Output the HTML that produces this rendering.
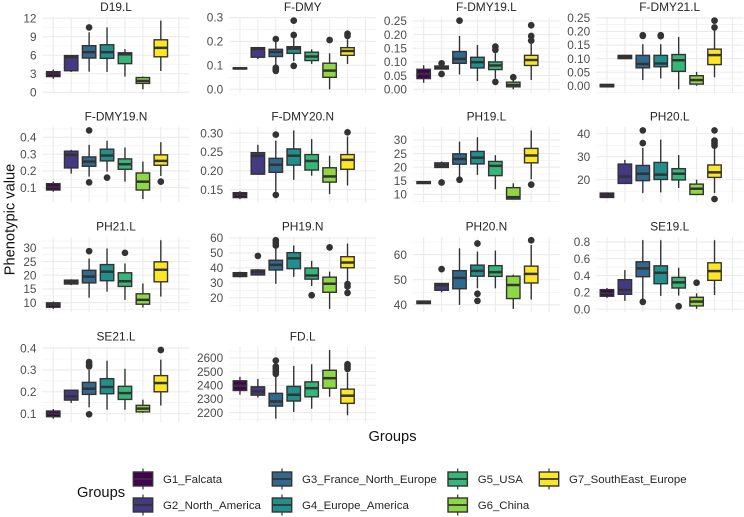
<!DOCTYPE html>
<html>
<head>
<meta charset="utf-8">
<style>
html,body{margin:0;padding:0;background:#fff;width:744px;height:517px;overflow:hidden}
svg{display:block;font-family:"Liberation Sans",Arial,sans-serif;filter:blur(0.3px)}
</style>
</head>
<body>
<svg id="chart" width="744" height="517" viewBox="0 0 744 517" xmlns="http://www.w3.org/2000/svg"></svg>
<script>
// Categories
const groups = ["G1_Falcata","G2_North_America","G3_France_North_Europe","G4_Europe_America","G5_USA","G6_China","G7_SouthEast_Europe"];
const groupColors = ["#440154","#443A83","#31688E","#21908C","#35B779","#8FD744","#FDE725"];
const panelNames = ["D19.L","F-DMY","F-DMY19.L","F-DMY21.L","F-DMY19.N","F-DMY20.N","PH19.L","PH20.L","PH21.L","PH19.N","PH20.N","SE19.L","SE21.L","FD.L"];

// Tick labels per panel
const ticksD19L = ["0","3","6","9","12"];
const ticksFDMY = ["0.0","0.1","0.2","0.3"];
const ticksFDMY19L = ["0.00","0.05","0.10","0.15","0.20","0.25"];
const ticksFDMY21L = ["0.00","0.05","0.10","0.15","0.20","0.25"];
const ticksFDMY19N = ["0.1","0.2","0.3","0.4"];
const ticksFDMY20N = ["0.15","0.20","0.25","0.30"];
const ticksPH19L = ["10","15","20","25","30"];
const ticksPH20L = ["20","30","40"];
const ticksPH21L = ["10","15","20","25","30"];
const ticksPH19N = ["20","30","40","50","60"];
const ticksPH20N = ["40","50","60"];
const ticksSE19L = ["0.0","0.2","0.4","0.6","0.8"];
const ticksSE21L = ["0.1","0.2","0.3","0.4"];
const ticksFDL = ["2200","2300","2400","2500","2600"];

// Box stats per group: [whisker low, q1, median, q3, whisker high]
const statsD19L = [[2.2,2.55,3,3.35,3.7],[3.3,3.5,5.7,5.95,6],[3.35,5.55,6.5,7.55,9.7],[3.3,5.5,6.5,7.7,10.5],[2.55,4.65,6.15,6.4,7],[0.5,1.45,1.85,2.4,2.55],[3.45,5.75,7.2,8.5,11.6]];
const statsFDMY = [[.083,.085,.087,.09,.092],[.126,.134,.169,.174,.174],[.102,.137,.156,.167,.2],[.118,.15,.17,.178,.213],[.106,.12,.137,.155,.167],[0,.05,.078,.109,.15],[.106,.142,.16,.174,.209]];
const statsFDMY19L = [[.024,.039,.056,.073,.088],[.074,.074,.079,.085,.1],[.054,.095,.111,.138,.195],[.03,.078,.099,.117,.162],[.04,.072,.087,.1,.132],[0,.009,.016,.026,.034],[.034,.087,.107,.124,.168]];
const statsFDMY21L = [[-.004,-.004,0,.005,.005],[.1,.1,.107,.112,.112],[.021,.066,.08,.112,.153],[.027,.07,.082,.112,.153],[-.013,.053,.094,.115,.18],[0,.006,.021,.037,.051],[.031,.078,.113,.135,.207]];
const statsFDMY19N = [[.076,.086,.104,.124,.136],[.184,.218,.296,.318,.326],[.166,.228,.256,.284,.356],[.196,.26,.292,.33,.38],[.136,.21,.24,.272,.34],[.032,.086,.136,.188,.256],[.17,.234,.26,.296,.372]];
const statsFDMY20N = [[.125,.129,.136,.142,.146],[.191,.191,.24,.248,.269],[.145,.196,.216,.233,.28],[.176,.215,.24,.258,.307],[.187,.202,.226,.243,.284],[.138,.17,.185,.208,.24],[.161,.204,.229,.243,.291]];
const statsPH19L = [[14,14,14.3,14.7,14.7],[19.9,19.9,20.7,21.6,22.1],[16.4,21.1,23,24.9,29.4],[17.2,21.2,23.5,25.8,31],[11.9,16.9,20.5,22.1,24.4],[8.3,8.3,9,12.5,14.1],[15.6,21.6,24.3,26.9,33.5]];
const statsPH20L = [[12,12.3,13.2,14.2,14.5],[18.1,18.4,21.4,26.8,28.6],[14.2,19.6,22.6,26.2,33.8],[14.5,20.1,22.2,27.5,37.4],[16.4,19.9,22.6,24.8,30.7],[13.6,13.6,16.1,18.1,20],[14.2,21,23.2,26.4,33.8]];
const statsPH21L = [[7.7,8.3,9.2,9.9,10.4],[16.4,16.8,17.5,18.2,18.5],[11.8,17.2,19.5,21.8,26.1],[14,18,21.3,23.9,29.8],[11,15.9,17.8,20.9,24.3],[8.2,9.4,11,13.2,17],[12.2,17.6,22,24.9,32.8]];
const statsPH19N = [[33.6,34.2,35.5,36.8,37.5],[35.3,35.3,37.3,38.6,39.2],[29.4,38.6,42,45.1,53.4],[34,39.5,46.4,50.2,55],[27.9,32.5,34.9,39.9,44.7],[12.6,23.7,29.4,33.8,37.5],[30.5,40.1,43.6,47.5,56.3]];
const statsPH20N = [[40.5,40.5,41,41.5,41.5],[45,45.8,47.8,48.5,48.5],[40,46.4,50.7,53.6,62.5],[46.6,51.4,53.5,55.8,61.2],[46.6,51.3,53,55.6,61.6],[38.4,42.5,47.9,51.4,52],[42.1,48.7,52.3,55.4,63.8]];
const statsSE19L = [[.134,.154,.189,.233,.252],[.099,.177,.229,.351,.465],[.118,.386,.485,.564,.82],[.158,.303,.433,.516,.82],[.162,.252,.319,.378,.493],[.004,.039,.091,.142,.189],[.169,.343,.453,.552,.82]];
const statsSE21L = [[.077,.086,.1,.112,.121],[.149,.162,.179,.207,.207],[.129,.188,.214,.243,.3],[.118,.191,.222,.26,.342],[.118,.165,.194,.225,.305],[.103,.108,.123,.138,.164],[.137,.2,.24,.274,.347]];
const statsFDL = [[2331,2362,2396,2433,2462],[2311,2328,2355,2389,2447],[2156,2248,2282,2341,2472],[2205,2285,2331,2392,2542],[2229,2316,2379,2425,2554],[2316,2379,2452,2510,2658],[2181,2268,2324,2372,2493]];

// Outliers per group
const outD19L = [[],[],[10.5],[],[],[],[]];
const outFDMY = [[],[],[.21,.09,.084,.077],[.287,.227,.098],[],[.206],[.232,.223]];
const outFDMY19L = [[],[.095,.056],[.251],[],[.156,.144,.027],[.044],[.234,.195,.178]];
const outFDMY21L = [[],[],[.186,.184],[.186,.183],[],[],[.24,.215]];
const outFDMY19N = [[],[],[.442,.132],[.16],[],[],[.136]];
const outFDMY20N = [[],[],[.296,.136],[],[],[],[.302]];
const outPH19L = [[],[14.4],[15.4],[],[],[],[13.6]];
const outPH20L = [[],[],[41.4,35.9],[],[],[],[41.4,37,35.9,34.8,11.6]];
const outPH21L = [[],[],[28.8],[],[28.2],[],[]];
const outPH19N = [[],[48],[58.5,56.7,55],[],[21.7],[53.7],[29.2,27.6,23.3]];
const outPH20N = [[],[54.2],[],[64.4,44.4,41.6],[],[],[65.7]];
const outSE19L = [[],[],[.087],[],[.035],[.315],[]];
const outSE21L = [[],[],[.336,.324,.316,.097],[],[],[],[.391]];
const outFDL = [[],[],[2581,2537,2520,2500,2484],[],[],[],[2554,2537,2520]];

const panelTicks = [ticksD19L,ticksFDMY,ticksFDMY19L,ticksFDMY21L,ticksFDMY19N,ticksFDMY20N,ticksPH19L,ticksPH20L,ticksPH21L,ticksPH19N,ticksPH20N,ticksSE19L,ticksSE21L,ticksFDL];
const panelStats = [statsD19L,statsFDMY,statsFDMY19L,statsFDMY21L,statsFDMY19N,statsFDMY20N,statsPH19L,statsPH20L,statsPH21L,statsPH19N,statsPH20N,statsSE19L,statsSE21L,statsFDL];
const panelOutliers = [outD19L,outFDMY,outFDMY19L,outFDMY21L,outFDMY19N,outFDMY20N,outPH19L,outPH20L,outPH21L,outPH19N,outPH20N,outSE19L,outSE21L,outFDL];

// Layout
const NS = "http://www.w3.org/2000/svg";
const svg = document.getElementById("chart");
const colLefts = [42.5,229.2,412.9,596.2];
const rowTops = [17.2,127,236.8,346.6];
const panelW = 147, panelH = 75.5;
const slots = 8;
const INK = "#333333";

function mk(parent, tag, attrs, text){
  const el = document.createElementNS(NS, tag);
  for (const k in attrs) el.setAttribute(k, attrs[k]);
  if (text !== undefined) el.textContent = text;
  parent.appendChild(el);
  return el;
}
function slug(s){ return s.toLowerCase().replace(/[^a-z0-9]+/g,"-"); }

panelNames.forEach((name, p) => {
  const px = colLefts[p % 4], py = rowTops[Math.floor(p / 4)];
  const stats = panelStats[p], outs = panelOutliers[p], ticks = panelTicks[p];
  const g = mk(svg, "g", {});
  
  

  // y axis function: ggplot style 5% expansion from the data range
  const all = [];
  stats.forEach(s => all.push(...s));
  outs.forEach(o => all.push(...o));
  const lo = Math.min(...all), hi = Math.max(...all);
  const pad = (hi - lo) * 0.05;
  const dMin = lo - pad, dMax = hi + pad;
  const yScale = v => py + panelH * (1 - (v - dMin) / (dMax - dMin));
  // x axis function: discrete 8 slots with 0.6 expansion
  const unit = panelW / (slots + 0.2);
  const xScale = i => px + (i + 0.6) * unit;

  // minor grid
  const vals = ticks.map(parseFloat);
  const step = vals.length > 1 ? vals[1] - vals[0] : 1;
  for (let k = -1; k < vals.length; k++) {
    const mv = vals[0] + (k + 0.5) * step;
    if (mv < dMin || mv > dMax) continue;
    const ml = mk(g, "line", {x1:px, x2:px+panelW, y1:yScale(mv), y2:yScale(mv), stroke:"#efefef", "stroke-width":0.6});
    
    
  }
  // major grid
  ticks.forEach((t) => {
    const v = parseFloat(t), y = yScale(v);
    const gl = mk(g, "line", {x1:px, x2:px+panelW, y1:y, y2:y, stroke:"#ebebeb", "stroke-width":1.1});
    
    
    const tl = mk(g, "text", {x:px-6, y:y+4.2, "text-anchor":"end", "font-size":11.8, fill:"#4d4d4d"}, t);
    
    
  });
  for (let i = 0; i < slots; i++) {
    const vl = mk(g, "line", {x1:xScale(i), x2:xScale(i), y1:py, y2:py+panelH, stroke:"#ebebeb", "stroke-width":1.1});
    
    
  }
  // title
  const title = mk(g, "text", {x:px+panelW/2, y:py-6.3, "text-anchor":"middle", "font-size":11.9, fill:"#262626"}, name);
  
  

  // boxes
  const bw = unit * 0.75;
  stats.forEach((s, i) => {
    const [wl, q1, med, q3, wh] = s;
    const cx = xScale(i);
    const bg = mk(g, "g", {});
    
    
    const w1 = mk(bg, "line", {x1:cx, x2:cx, y1:yScale(q3), y2:yScale(wh), stroke:INK, "stroke-width":1.4});
    
    
    const w2 = mk(bg, "line", {x1:cx, x2:cx, y1:yScale(q1), y2:yScale(wl), stroke:INK, "stroke-width":1.4});
    
    
    const r = mk(bg, "rect", {x:cx-bw/2, y:yScale(q3), width:bw, height:Math.max(yScale(q1)-yScale(q3),0.1), fill:groupColors[i], stroke:INK, "stroke-width":1.4});
    
    
    const m = mk(bg, "line", {x1:cx-bw/2, x2:cx+bw/2, y1:yScale(med), y2:yScale(med), stroke:INK, "stroke-width":2.5});
    
    
    outs[i].forEach(v => {
      const c = mk(bg, "circle", {cx:cx, cy:yScale(v), r:3.35, fill:INK});
      
      
    });
  });
});

// axis titles
const yTitle = mk(svg, "text", {transform:"translate(14.5,219.5) rotate(-90)", "text-anchor":"middle", "font-size":14.67, fill:"#111"}, "Phenotypic value");


const xTitle = mk(svg, "text", {x:392.5, y:441, "text-anchor":"middle", "font-size":14.67, fill:"#111"}, "Groups");



// legend
const legend = mk(svg, "g", {});


const legendTitle = mk(legend, "text", {x:77, y:497, "font-size":14.67, fill:"#111"}, "Groups");


const legendCols = [143,282,457.7,549];
const legendRows = [479,505];
groups.forEach((gname, i) => {
  const kx = legendCols[Math.floor(i / 2)], ky = legendRows[i % 2];
  const e = mk(legend, "g", {});
  
  
  mk(e, "line", {x1:kx, x2:kx, y1:ky-10.5, y2:ky+10.5, stroke:INK, "stroke-width":1.2});
  mk(e, "rect", {x:kx-9.7, y:ky-7, width:19.4, height:14, fill:groupColors[i], stroke:INK, "stroke-width":1.4});
  mk(e, "line", {x1:kx-9.7, x2:kx+9.7, y1:ky, y2:ky, stroke:INK, "stroke-width":1.8});
  const lt = mk(e, "text", {x:kx+20, y:ky+4.2, "font-size":11.45, fill:"#262626"}, gname);
  
  
});
</script>
</body>
</html>
